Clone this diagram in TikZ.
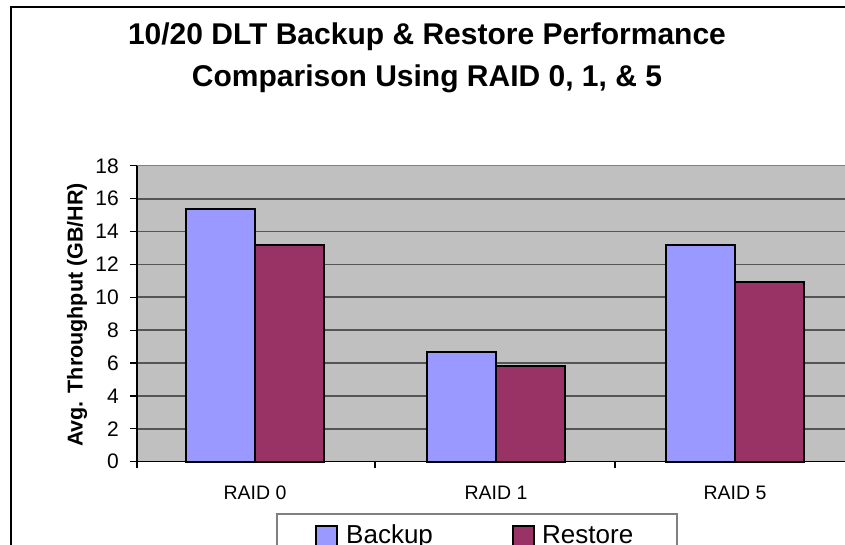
\documentclass[tikz,border=0pt]{standalone}
\usepackage{fontspec}
\setmainfont{Liberation Sans}
\definecolor{plotbg}{HTML}{C0C0C0}
\definecolor{backupc}{HTML}{9999FF}
\definecolor{restorec}{HTML}{993366}
\definecolor{gridc}{HTML}{555555}
\tikzset{
  gridline/.style={draw=gridc, line width=1.8pt},
  axisline/.style={draw=black, line width=1.3pt},
  barbox/.style={draw=black, line width=2pt},
  ticklabel/.style={anchor=east, inner sep=0pt, font=\fontsize{21}{24}\selectfont},
  catlabel/.style={inner sep=0pt, font=\fontsize{19.5}{22}\selectfont},
  legtext/.style={anchor=base west, inner sep=0pt, font=\fontsize{26}{30}\selectfont},
}
% value -> vertical position
\newcommand{\vy}[1]{461.7-16.44*#1}
\begin{document}
\begin{tikzpicture}[x=1pt,y=-1pt]
\useasboundingbox (0,0) rectangle (845,545);
% chart frame
\draw[black, line width=1.6pt] (11,560) -- (11,7) -- (860,7);
% title
\node[font=\bfseries\fontsize{30}{36}\selectfont, align=center, inner sep=0pt] (title) at (427,58)
  {10/20 DLT Backup \& Restore Performance\\[6pt]Comparison Using RAID 0, 1, \& 5};
% plot area
\fill[plotbg] (137,165.7) rectangle (860,461.7);
\foreach \v in {2,4,...,16} \draw[gridline] (137,{\vy{\v}}) -- (860,{\vy{\v}});
\draw[draw=gray, line width=1.6pt] (137,165.7) -- (860,165.7);
% bars
\foreach \c/\b/\r in {255/15.4/13.2, 496/6.67/5.84, 735/13.2/10.93}{
  \filldraw[barbox, fill=backupc] ({\c-69},461.7) rectangle (\c,{\vy{\b}});
  \filldraw[barbox, fill=restorec] (\c,461.7) rectangle ({\c+69},{\vy{\r}});
}
% axes
\draw[axisline] (137,165.7) -- (137,468);
\draw[axisline] (137,461.7) -- (860,461.7);
\foreach \v in {0,2,...,18}{
  \draw[axisline] (130,{\vy{\v}}) -- (137,{\vy{\v}});
  \node[ticklabel] at (119,{\vy{\v}}) {\v};
}
\foreach \x in {375,615} \draw[axisline] (\x,461.7) -- (\x,468);
% axis title
\node[rotate=90, inner sep=0pt, font=\bfseries\fontsize{21.5}{24}\selectfont] (ylab) at (77,315) {Avg. Throughput (GB/HR)};
% categories
\node[catlabel] (c0) at (255,493) {RAID 0};
\node[catlabel] (c1) at (496,493) {RAID 1};
\node[catlabel] (c5) at (735,493) {RAID 5};
% legend
\draw[draw=gray, line width=1.4pt] (277,560) -- (277,514) -- (677,514) -- (677,560);
\filldraw[draw=black, line width=1.6pt, fill=backupc] (316,526) rectangle (337,547);
\node[legtext] (lb) at (346,543) {Backup};
\filldraw[draw=black, line width=1.6pt, fill=restorec] (513,526) rectangle (534,547);
\node[legtext] (lr) at (542,543) {Restore};
\end{tikzpicture}
\end{document}
